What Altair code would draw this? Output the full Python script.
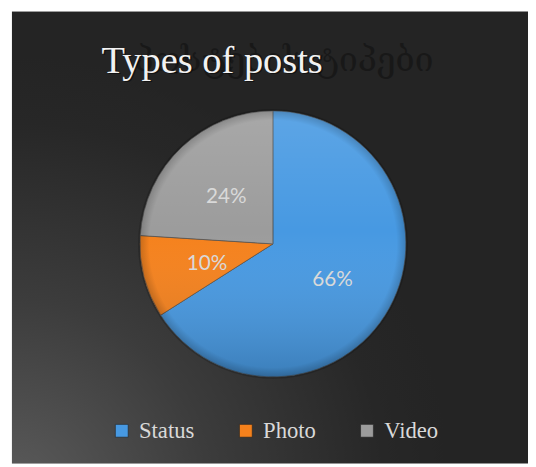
import altair as alt
import pandas as pd

# ---- data ----
categories = ["Status", "Photo", "Video"]
values = [66, 10, 24]
colors = ["#4799e2", "#f5811c", "#9c9c9c"]
title_en = "Types of posts"
title_ka = "პოსტების ტიპები"

df = pd.DataFrame({
    "category": categories,
    "value": values,
    "order": list(range(len(categories))),
})

W, H = 528, 459
CX, CY, R = 269, 236, 135
SERIF = "Liberation Serif"

base = alt.Chart(df).transform_calculate(label="datum.value + '%'")

# background panel with soft radial highlight in the lower-left corner
bg_grad = alt.RadialGradient(
    gradient="radial",
    x1=0, y1=1, r1=0, x2=0, y2=1, r2=0.85,
    stops=[
        alt.GradientStop(color="#5c5c5c", offset=0),
        alt.GradientStop(color="#3c3c3c", offset=0.45),
        alt.GradientStop(color="#272727", offset=0.85),
        alt.GradientStop(color="#242424", offset=1),
    ],
)
bg = alt.Chart(pd.DataFrame({"k": [0]})).mark_rect(fill=bg_grad).encode(
    x=alt.value(4), x2=alt.value(W), y=alt.value(0), y2=alt.value(H)
)

# faded Georgian title behind the English one
ka = alt.Chart(pd.DataFrame({"t": [title_ka]})).mark_text(
    align="right", baseline="alphabetic", font="DejaVu Serif",
    fontSize=34, color="#181818"
).encode(x=alt.value(432), y=alt.value(60), text="t:N")

title_shadow = alt.Chart(pd.DataFrame({"t": [title_en]})).mark_text(
    align="left", baseline="alphabetic", font=SERIF,
    fontSize=39, color="#000000", opacity=0.45
).encode(x=alt.value(96.5), y=alt.value(63.5), text="t:N")

title = alt.Chart(pd.DataFrame({"t": [title_en]})).mark_text(
    align="left", baseline="alphabetic", font=SERIF,
    fontSize=39, color="#f2f2f2"
).encode(x=alt.value(95), y=alt.value(62), text="t:N")

theta = alt.Theta("value:Q", stack=True)
order = alt.Order("order:Q")
pos = dict(x=alt.value(CX), y=alt.value(CY))

pie_shadow = base.mark_arc(outerRadius=R + 2, fill="#000000", opacity=0.18).encode(
    theta=alt.Theta("sum(value):Q"), **pos
)

pie = base.mark_arc(outerRadius=R, stroke="#4a4a4a", strokeWidth=0.6).encode(
    theta=theta,
    order=order,
    color=alt.Color(
        "category:N",
        scale=alt.Scale(domain=categories, range=colors),
        sort=categories,
        legend=alt.Legend(
            title=None, orient="none", legendX=104, legendY=414,
            direction="horizontal", symbolType="square", symbolSize=169,
            symbolStrokeWidth=0.6, symbolStrokeColor="#222222",
            labelFont=SERIF, labelFontSize=23,
            labelColor="#d9d9d9", columnPadding=40, labelOffset=6,
            padding=0, symbolOpacity=1,
        ),
    ),
    **pos,
)

shade_grad = alt.LinearGradient(
    gradient="linear", x1=0, y1=0, x2=0, y2=1,
    stops=[
        alt.GradientStop(color="rgba(255,255,255,0.12)", offset=0),
        alt.GradientStop(color="rgba(255,255,255,0)", offset=0.45),
        alt.GradientStop(color="rgba(0,0,0,0.18)", offset=1),
    ],
)
shade = base.mark_arc(outerRadius=R, fill=shade_grad).encode(
    theta=alt.Theta("sum(value):Q"), **pos
)

rim_grad = alt.RadialGradient(
    gradient="radial", x1=0.5, y1=0.5, r1=0, x2=0.5, y2=0.5, r2=0.5,
    stops=[
        alt.GradientStop(color="rgba(0,0,0,0)", offset=0),
        alt.GradientStop(color="rgba(0,0,0,0)", offset=0.93),
        alt.GradientStop(color="rgba(0,0,0,0.18)", offset=1),
    ],
)
rim = base.mark_arc(outerRadius=R, fill=rim_grad).encode(
    theta=alt.Theta("sum(value):Q"), **pos
)

labels = base.mark_text(
    radius=69, dy=3, font="Lato", fontSize=21, color="#d9d9d9"
).encode(theta=theta, order=order, text="label:N", **pos)

chart = alt.layer(
    bg, ka, title_shadow, title, pie_shadow, pie, shade, rim, labels
).properties(
    width=W, height=H, padding=0,
    autosize=alt.AutoSizeParams(type="none"),
    background="#ffffff",
).configure_view(stroke=None).configure_legend(
    labelFont=SERIF, labelFontSize=23, labelColor="#d9d9d9"
)

chart.save("out.html", embed_options={"renderer": "svg", "actions": False})
